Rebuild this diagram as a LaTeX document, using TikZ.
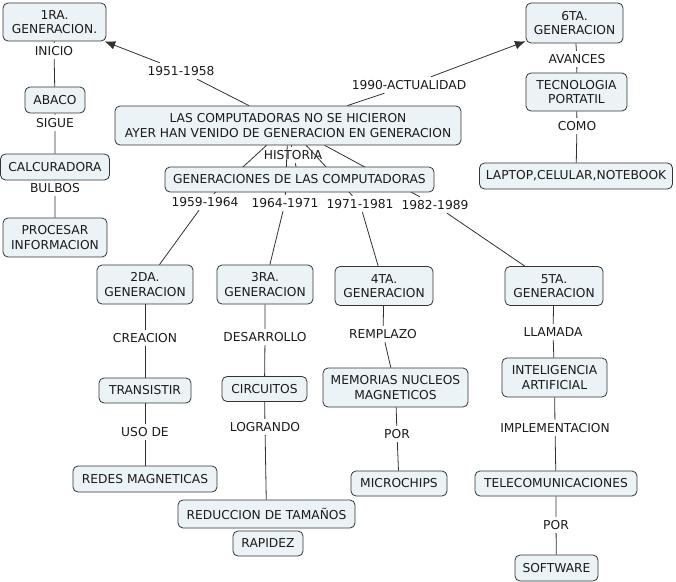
\documentclass[tikz,border=0pt]{standalone}
\usepackage{fontspec}
\setmainfont{DejaVu Sans}
\usetikzlibrary{arrows.meta}
\definecolor{boxfill}{HTML}{ECF3F6}
\definecolor{boxline}{HTML}{333333}
\definecolor{txt}{HTML}{1A1A1A}
\definecolor{lnk}{HTML}{303030}
\begin{document}
\begin{tikzpicture}[x=0.75pt,y=-0.75pt,
  every node/.style={font=\fontsize{9.2}{10.8}\selectfont, text=txt, align=center, inner sep=0pt},
  concept/.style={draw=boxline, fill=boxfill, rounded corners=3.75pt, line width=0.6pt},
  sz/.style 2 args={minimum width=#1*0.75pt, minimum height=#2*0.75pt},
  lab/.style={inner sep=2.5pt},
  conn/.style={draw=lnk, line width=0.6pt},
  arr/.style={conn, -{Latex[length=8pt,width=6.5pt]}}]
\useasboundingbox (0,0) rectangle (676,582);

% linking phrases
\node[lab] (l1951) at (181,71) {1951-1958};
\node[lab] (l1990) at (409,85) {1990-ACTUALIDAD};
\node[lab] (inicio) at (54,51) {INICIO};
\node[lab] (sigue) at (55,123) {SIGUE};
\node[lab] (bulbos) at (55,188) {BULBOS};
\node[lab] (avances) at (577,59) {AVANCES};
\node[lab] (como) at (577,126) {COMO};
\node[lab] (historia) at (293,155) {HISTORIA};
\node[lab] (l5964) at (205,202) {1959-1964};
\node[lab] (l6471) at (285,203) {1964-1971};
\node[lab] (l7181) at (360,204) {1971-1981};
\node[lab] (l8289) at (435,205) {1982-1989};
\node[lab] (creacion) at (145,338) {CREACION};
\node[lab] (desarrollo) at (265,337) {DESARROLLO};
\node[lab] (remplazo) at (383,334) {REMPLAZO};
\node[lab] (llamada) at (553,332) {LLAMADA};
\node[lab] (usode) at (145,432) {USO DE};
\node[lab] (logrando) at (265,427) {LOGRANDO};
\node[lab] (por1) at (397,434) {POR};
\node[lab] (implem) at (555,428) {IMPLEMENTACION};
\node[lab] (por2) at (556,525) {POR};

% concept positions (coordinates for drawing lines first)
\node[sz={346}{39}] (main) at (288,125.5) {};
\node[sz={269}{25}] (gen0) at (299.5,179.5) {};

% lines from main through generaciones box to dates
\draw[conn] (main) -- (historia) -- (gen0);
\draw[conn] (main) -- (l5964);
\draw[conn] (main) -- (l6471);
\draw[conn] (main) -- (l7181);
\draw[conn] (main) -- (l8289);

% concepts
\node[concept, sz={346}{39}] (mainb) at (288,125.5) {LAS COMPUTADORAS NO SE HICIERON\\AYER HAN VENIDO DE GENERACION EN GENERACION};
\node[concept, sz={269}{25}] (gen) at (299.5,179.5) {GENERACIONES DE LAS COMPUTADORAS};
\node[concept, sz={103}{38}] (g1) at (54.5,22) {1RA.\\GENERACION.};
\node[concept, sz={60}{26}] (abaco) at (55,100) {ABACO};
\node[concept, sz={109}{26}] (calc) at (55,167) {CALCURADORA};
\node[concept, sz={104}{39}] (proc) at (55,237.5) {PROCESAR\\INFORMACION};
\node[concept, sz={97}{40}] (g6) at (574.5,23) {6TA.\\GENERACION};
\node[concept, sz={101}{38}] (tecno) at (576.5,92) {TECNOLOGIA\\PORTATIL};
\node[concept, sz={193}{26}] (laptop) at (576,176) {LAPTOP,CELULAR,NOTEBOOK};
\node[concept, sz={96}{39}] (g2) at (145,284.5) {2DA.\\GENERACION};
\node[concept, sz={96}{39}] (g3) at (265,284.5) {3RA.\\GENERACION};
\node[concept, sz={98}{39}] (g4) at (384,286) {4TA.\\GENERACION};
\node[concept, sz={98}{39}] (g5) at (554,286) {5TA.\\GENERACION};
\node[concept, sz={92}{25}] (trans) at (145,390.5) {TRANSISTIR};
\node[concept, sz={85}{25}] (circ) at (264.5,389) {CIRCUITOS};
\node[concept, sz={145}{39}] (mem) at (395.5,387.5) {MEMORIAS NUCLEOS\\MAGNETICOS};
\node[concept, sz={105}{39}] (ia) at (554.5,377.5) {INTELIGENCIA\\ARTIFICIAL};
\node[concept, sz={144}{26}] (redes) at (145,479) {REDES MAGNETICAS};
\node[concept, sz={177}{28}] (reduc) at (266.5,514) {REDUCCION DE TAMAÑOS};
\node[concept, sz={70}{25}] (rapidez) at (268,543.5) {RAPIDEZ};
\node[concept, sz={96}{25}] (micro) at (399,483.5) {MICROCHIPS};
\node[concept, sz={162}{25}] (telecom) at (556,483.5) {TELECOMUNICACIONES};
\node[concept, sz={83}{26}] (soft) at (556.5,568) {SOFTWARE};

% connectors
\draw[conn] (mainb) -- (l1951);
\draw[arr] (l1951) -- (g1);
\draw[conn] (mainb) -- (l1990);
\draw[arr] (l1990) -- (g6);
\draw[conn] (g1) -- (inicio) -- (abaco) -- (sigue) -- (calc) -- (bulbos) -- (proc);
\draw[conn] (g6) -- (avances) -- (tecno) -- (como) -- (laptop);
\draw[conn] (l5964) -- (g2);
\draw[conn] (l6471) -- (g3);
\draw[conn] (l7181) -- (g4);
\draw[conn] (l8289) -- (g5);
\draw[conn] (g2) -- (creacion) -- (trans) -- (usode) -- (redes);
\draw[conn] (g3) -- (desarrollo) -- (circ) -- (logrando) -- (reduc);
\draw[conn] (g4) -- (remplazo) -- (mem) -- (por1) -- (micro);
\draw[conn] (g5) -- (llamada) -- (ia) -- (implem) -- (telecom) -- (por2) -- (soft);
\end{tikzpicture}
\end{document}
